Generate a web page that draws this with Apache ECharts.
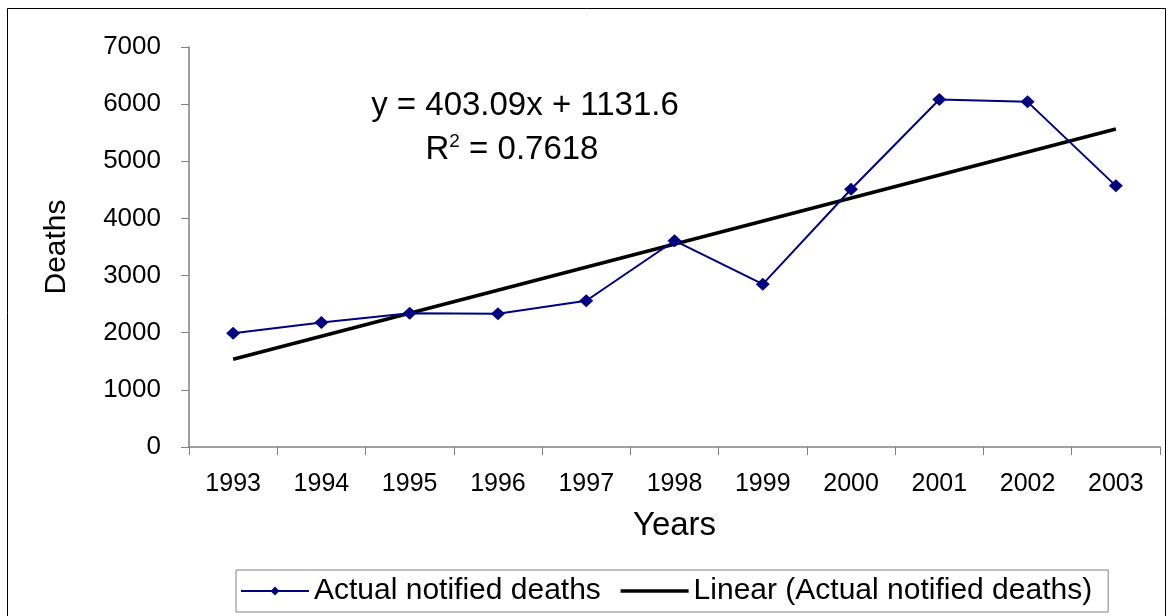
<!DOCTYPE html>
<html>
<head>
<meta charset="utf-8">
<script src="https://cdn.jsdelivr.net/npm/echarts@6/dist/echarts.min.js"></script>
<style>
html,body{margin:0;padding:0;background:#fff;}
#chart{width:1172px;height:616px;}
</style>
</head>
<body>
<div id="chart"></div>
<script>
var years = ['1993','1994','1995','1996','1997','1998','1999','2000','2001','2002','2003'];
var deaths = [1990, 2180, 2340, 2330, 2560, 3610, 2850, 4510, 6080, 6040, 4570];
var trendYears = ['1993', '2003'];
var trendValues = [1535, 5566];
var yTicks = [0, 1000, 2000, 3000, 4000, 5000, 6000, 7000];
var seriesName = 'Actual notified deaths';
var trendName = 'Linear (Actual notified deaths)';
var equationText = 'y = 403.09x + 1131.6';
var r2Text = '0.7618';
var xTitle = 'Years';
var yTitle = 'Deaths';

var FONT = 'Liberation Sans, Arial, sans-serif';
var chart = echarts.init(document.getElementById('chart'), null, {renderer: 'canvas'});
var trendData = trendYears.map(function (y, i) { return [y, trendValues[i]]; });

chart.setOption({
  animation: false,
  backgroundColor: '#ffffff',
  grid: {left: 189, right: 12, top: 47, bottom: 169, containLabel: false},
  xAxis: {
    type: 'category',
    data: years,
    boundaryGap: true,
    name: xTitle,
    nameLocation: 'middle',
    nameGap: 62,
    nameTextStyle: {fontFamily: FONT, fontSize: 33, color: '#000'},
    axisLine: {show: true, lineStyle: {color: '#808080', width: 1.5}},
    axisTick: {show: true, length: 8, alignWithLabel: false, lineStyle: {color: '#808080', width: 1}},
    axisLabel: {fontFamily: FONT, fontSize: 25, color: '#000', margin: 25, interval: 0},
    splitLine: {show: false}
  },
  yAxis: {
    type: 'value',
    min: yTicks[0],
    max: yTicks[yTicks.length - 1],
    interval: yTicks[1] - yTicks[0],
    name: yTitle,
    nameLocation: 'middle',
    nameGap: 117,
    nameTextStyle: {fontFamily: FONT, fontSize: 30, color: '#000'},
    axisLine: {show: true, lineStyle: {color: '#808080', width: 1.5}},
    axisTick: {show: true, length: 8, inside: false, lineStyle: {color: '#808080', width: 1}},
    axisLabel: {fontFamily: FONT, fontSize: 26, color: '#000', margin: 28,
      formatter: function (v) { return String(v); }},
    splitLine: {show: false}
  },
  legend: {
    show: true,
    left: 236,
    top: 570,
    padding: [6, 16, 6, 4],
    itemGap: 18,
    itemWidth: 68,
    itemHeight: 11,
    borderColor: '#808080',
    borderWidth: 1,
    borderRadius: 0,
    textStyle: {fontFamily: FONT, fontSize: 30, color: '#000', padding: [0, 0, 0, 0]},
    data: [
      {name: seriesName},
      {name: trendName, itemStyle: {opacity: 0}, lineStyle: {width: 3.5, color: '#000'}}
    ]
  },
  series: [
    {
      name: seriesName,
      type: 'line',
      data: deaths,
      symbol: 'diamond',
      symbolSize: [14, 13],
      lineStyle: {color: '#000080', width: 2},
      itemStyle: {color: '#000080'},
      z: 3
    },
    {
      name: trendName,
      type: 'line',
      data: trendData,
      symbol: 'none',
      showSymbol: false,
      lineStyle: {color: '#000000', width: 3.5},
      itemStyle: {color: '#000000'},
      z: 2
    }
  ],
  graphic: [
    {
      type: 'rect',
      shape: {x: 7.5, y: 8.5, width: 1158, height: 640},
      style: {fill: 'none', stroke: '#000', lineWidth: 1},
      silent: true,
      z: -1
    },
    {
      type: 'text',
      x: 525,
      y: 106,
      style: {
        text: equationText,
        align: 'center', verticalAlign: 'middle',
        font: '33px ' + FONT,
        fill: '#000'
      }
    },
    {
      type: 'text',
      x: 512,
      y: 150,
      style: {
        text: '{a|R}{s|2}{a| = ' + r2Text + '}',
        align: 'center', verticalAlign: 'middle',
        rich: {
          a: {fontFamily: FONT, fontSize: 33, color: '#000', lineHeight: 36},
          s: {fontFamily: FONT, fontSize: 19, color: '#000', lineHeight: 36, padding: [0, 0, 16, 0]}
        }
      }
    }
  ]
});
</script>
</body>
</html>
